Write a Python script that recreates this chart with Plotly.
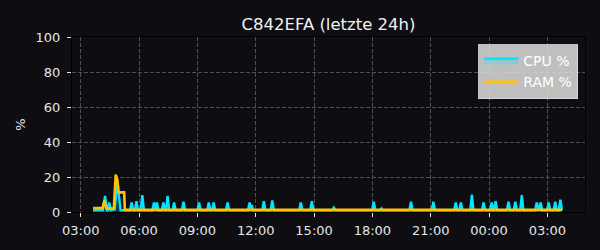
import plotly.graph_objects as go

D1 = "2024-05-01 "
D2 = "2024-05-02 "

cpu_times = [
    D1 + t for t in [
        "03:38", "04:08", "04:15", "04:21", "04:24", "04:28", "04:33", "04:45", "04:50", "04:54",
        "04:58", "05:03", "05:32", "05:37", "05:42", "05:47", "05:52", "05:57", "06:05", "06:10",
        "06:15", "06:41", "06:46", "06:50", "06:51", "06:55", "07:00", "07:10", "07:15", "07:20",
        "07:23", "07:28", "07:33", "07:43", "07:48", "07:53", "08:12", "08:17", "08:22", "09:00",
        "09:05", "09:10", "09:30", "09:35", "09:40", "09:45", "09:50", "09:55", "10:28", "10:33",
        "10:38", "11:36", "11:41", "11:45", "11:48", "11:52", "12:20", "12:25", "12:30", "12:46",
        "12:51", "12:56", "14:14", "14:19", "14:24", "14:48", "14:53", "14:58", "15:56", "16:01",
        "16:06", "17:59", "18:04", "18:09", "18:24", "18:28", "18:32", "19:54", "19:59", "20:04",
        "21:03", "21:08", "21:13", "22:12", "22:17", "22:22", "22:28", "22:33", "22:38", "23:02",
        "23:07", "23:12", "23:38", "23:43", "23:48",
    ]
] + [
    D2 + t for t in [
        "00:03", "00:08", "00:13", "00:15", "00:20", "00:25", "00:55", "01:00", "01:05", "01:16",
        "01:21", "01:26", "01:36", "01:41", "01:46", "02:22", "02:27", "02:32", "02:34", "02:39",
        "02:44", "02:59", "03:04", "03:09", "03:19", "03:24", "03:29", "03:35", "03:40", "03:45",
    ]
]

cpu_pct = [
    1.0, 1.0, 9.2, 1.0, 1.0, 5.4, 1.0, 1.5, 12.0, 17.0,
    9.0, 1.0, 1.0, 5.4, 1.0, 1.0, 6.2, 1.0, 1.0, 9.6,
    1.0, 1.0, 5.4, 1.0, 1.0, 5.4, 1.0, 1.0, 5.4, 1.0,
    1.0, 9.2, 1.0, 1.0, 5.4, 1.0, 1.0, 5.8, 1.0, 1.0,
    5.4, 1.0, 1.0, 5.4, 1.0, 1.0, 5.4, 1.0, 1.0, 5.4,
    1.0, 1.0, 5.4, 2.0, 4.0, 1.0, 1.0, 6.2, 1.0, 1.0,
    6.6, 1.0, 1.0, 5.4, 1.0, 1.0, 6.2, 1.0, 1.0, 2.5,
    1.0, 1.0, 5.8, 1.0, 1.0, 2.0, 1.0, 1.0, 5.8, 1.0,
    1.0, 5.8, 1.0, 1.0, 5.4, 1.0, 1.0, 5.4, 1.0, 1.0,
    10.0, 1.0, 1.0, 5.4, 1.0,
    1.0, 5.4, 1.0, 1.0, 6.2, 1.0, 1.0, 5.8, 1.0, 1.0,
    5.8, 1.0, 1.0, 9.6, 1.0, 1.0, 5.4, 1.0, 1.0, 5.4,
    1.0, 1.0, 5.4, 1.0, 1.0, 5.8, 1.0, 1.0, 7.0, 1.0,
]

ram_times = [
    D1 + "03:38", D1 + "04:07", D1 + "04:13", D1 + "04:19", D1 + "04:42",
    D1 + "04:48", D1 + "04:53", D1 + "04:56", D1 + "05:14", D1 + "05:16",
    D2 + "03:45",
]
ram_pct = [2.3, 2.3, 6.5, 2.0, 2.0, 21.4, 18.5, 11.2, 11.2, 1.2, 1.2]

title_text = "C842EFA (letzte 24h)"
x_range = [D1 + "02:33", D2 + "04:56"]

BG = "rgb(13,13,18)"
CYAN = "#00E5FF"
AMBER = "#FFC107"
GRID = "rgb(78,78,84)"
FONT = "DejaVu Sans"

fig = go.Figure()
fig.add_trace(go.Scatter(
    x=cpu_times, y=cpu_pct, name="CPU %", mode="lines",
    line=dict(color=CYAN, width=2.4),
    fill="tozeroy", fillcolor="rgba(0,229,255,0.22)",
))
fig.add_trace(go.Scatter(
    x=ram_times, y=ram_pct, name="RAM %", mode="lines",
    line=dict(color=AMBER, width=2.6),
))

fig.update_layout(
    width=600, height=250,
    margin=dict(l=72, r=15, t=37, b=38),
    paper_bgcolor=BG, plot_bgcolor=BG,
    font=dict(family=FONT, color="#e6e6e6", size=13),
    title=dict(text=title_text, x=0.5, xref="paper", xanchor="center", y=0.905, yanchor="middle",
               font=dict(size=16.5, color="#f2f2f2", family=FONT)),
    showlegend=True,
    legend=dict(
        x=0.987, y=0.96, xanchor="right", yanchor="top",
        bgcolor="rgba(218,218,218,0.87)", bordercolor="rgba(218,218,218,0.87)", borderwidth=1,
        font=dict(size=14, color="#ffffff", family=FONT),
        itemwidth=34, tracegroupgap=0,
    ),
)

fig.update_xaxes(
    type="date", range=x_range,
    tickformat="%H:%M", dtick=3 * 3600 * 1000, tick0=D1 + "03:00",
    showgrid=True, gridcolor=GRID, griddash="4px,2px", gridwidth=0.8,
    ticks="outside", ticklen=4, tickwidth=1, tickcolor="#e6e6e6",
    showline=True, linecolor="black", linewidth=1, mirror=True,
    zeroline=False, tickfont=dict(size=13, color="#e6e6e6"),
    ticklabelstandoff=2,
)
fig.update_yaxes(
    range=[0, 100], dtick=20,
    showgrid=True, gridcolor=GRID, griddash="4px,2px", gridwidth=0.8,
    ticks="outside", ticklen=4, tickwidth=1, tickcolor="#e6e6e6",
    showline=True, linecolor="black", linewidth=1, mirror=True,
    zeroline=False, tickfont=dict(size=13, color="#e6e6e6"),
    ticklabelstandoff=4,
    title=dict(text="%", standoff=7, font=dict(size=13, color="#e6e6e6")),
)

fig.write_html("out.html")
